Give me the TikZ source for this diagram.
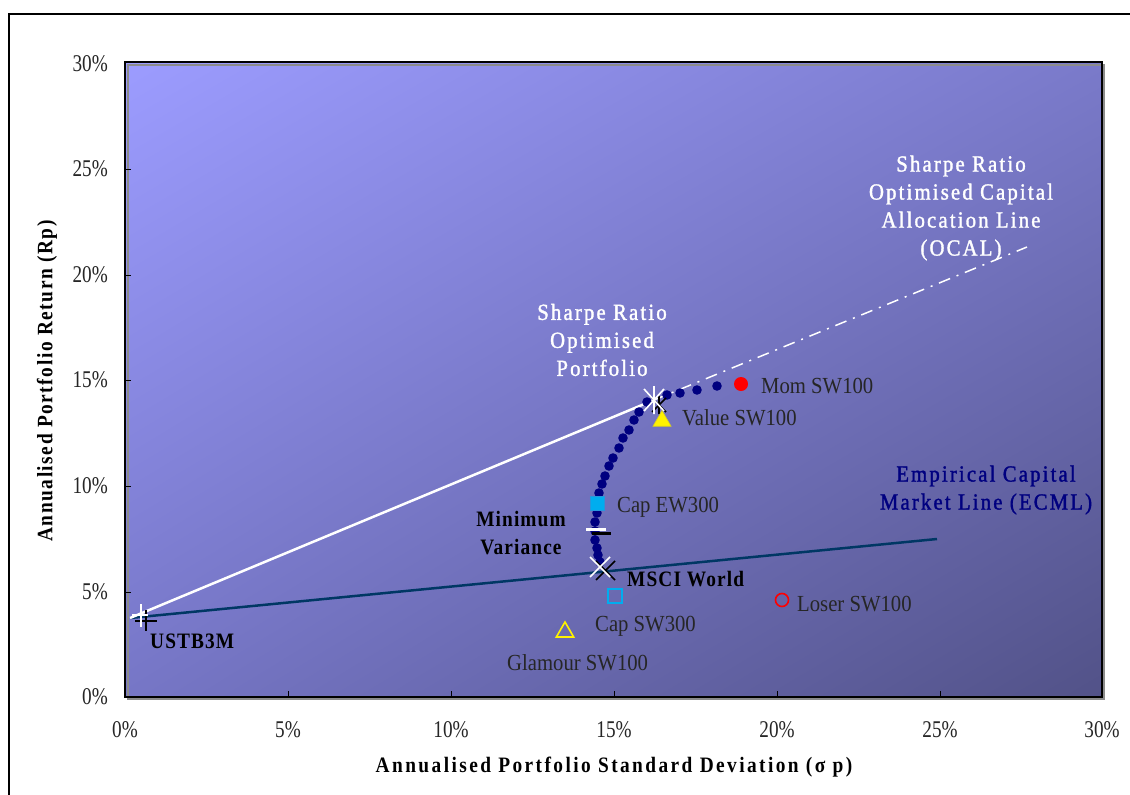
\documentclass[tikz,border=0pt]{standalone}
\usepackage{fontspec}
\setmainfont{Liberation Serif}
\newfontfamily\tickfont[FakeStretch=0.8]{Liberation Serif}
\newfontfamily\labfont[FakeStretch=0.9]{Liberation Serif}
\newfontfamily\whitefont[FakeStretch=0.9,LetterSpace=9.5,FakeBold=1.5]{Liberation Serif}
\newfontfamily\boldfont[FakeStretch=0.88,LetterSpace=5]{Liberation Serif}
\newfontfamily\xtitlefont[FakeStretch=0.88,LetterSpace=11]{Liberation Serif}
\newfontfamily\ytitlefont[FakeStretch=0.88,LetterSpace=7]{Liberation Serif}
\usetikzlibrary{shapes.geometric,shapes.misc,shadings}
\definecolor{bgUL}{RGB}{156,156,255}
\definecolor{bgUR}{RGB}{122,122,202}
\definecolor{bgLL}{RGB}{118,118,198}
\definecolor{bgLR}{RGB}{82,82,136}
\definecolor{navyc}{RGB}{0,0,128}
\definecolor{ecml}{RGB}{0,55,100}
\definecolor{capedge}{RGB}{40,150,220}
\tikzset{
  ticklab/.style={font=\tickfont\fontsize{24}{28}\selectfont, inner sep=0pt, text=black!85},
  lab/.style={font=\labfont\fontsize{23}{28}\selectfont, inner sep=0pt, anchor=west, text=black!85},
  boldlab/.style={font=\boldfont\bfseries\fontsize{22}{28}\selectfont, inner sep=0pt, text=black},
  whitelab/.style={font=\whitefont\fontsize{23}{28}\selectfont, inner sep=0pt, text=white, align=center},
  fdot/.style={fill=navyc},
  marker/.style={inner sep=0pt, minimum size=#1},
}
\begin{document}
\begin{tikzpicture}[x=1pt,y=-1pt]
\useasboundingbox (0,0) rectangle (1130,795);
\fill[white] (0,0) rectangle (1130,795);
% outer frame
\draw[line width=1.5pt, black] (9,795) -- (9,14) -- (1130,14);
% plot background
\shade[upper left=bgUL, upper right=bgUR, lower left=bgLL, lower right=bgLR] (125,62) rectangle (1102,697);
\draw[line width=2pt, black!45] (127.5,64.5) rectangle (1104,699);
\draw[line width=2pt, black] (125,62) rectangle (1102,697);
% ticks
\foreach \x in {288,451,614,777,940} \draw[line width=1pt] (\x,697) -- (\x,691);
\foreach \y in {169,275,380,486,592} \draw[line width=1pt] (125,\y) -- (131,\y);
% tick labels
\foreach \x/\t in {125/0,288/5,451/10,614/15,777/20,940/25,1102/30}
  \node[ticklab] (xt\t) at (\x,730) {\t\%};
\foreach \y/\t in {697/0,592/5,486/10,380/15,275/20,169/25,64/30}
  \node[ticklab, anchor=east] (yt\t) at (108,\y) {\t\%};
% axis titles
\node[font=\xtitlefont\bfseries\fontsize{22}{26}\selectfont, inner sep=0pt] (xtitle) at (614,767) {Annualised Portfolio Standard Deviation (σ p)};
\node[font=\ytitlefont\bfseries\fontsize{22}{26}\selectfont, inner sep=0pt, rotate=90] (ytitle) at (47,381) {Annualised Portfolio Return (Rp)};
% key coordinates
\coordinate (rf) at (130,618);
\coordinate (sharpe) at (654,400);
\coordinate (ocalend) at (1027,247);
\coordinate (ecmlend) at (937,539);
% lines
\draw[ecml, line width=2.5pt] (rf) -- (ecmlend);
\draw[white, line width=2.5pt] (rf) -- (sharpe);
\draw[white, line width=1.5pt, dash pattern=on 12pt off 7pt on 2pt off 7pt] (sharpe) -- (ocalend);
% efficient frontier
\foreach \p in {(717,386),(697,390),(680,393),(667,395),(647,402),(639,412),(634,420),(629,430),(623,438),(619,448),(613,458),(609,466),(605,476),(602,484),(599,493),(597,503),(597,513),(595,522),(595,531),(595,540),(597,548),(598,555),(600,562)}
  \fill[fdot] \p circle (4.8);
% Minimum variance marker
\draw[black, line width=3pt] (592,533) -- (611,533);
\draw[white, line width=3pt] (586,529) -- (606,529);
% MSCI World cross
\draw[black, line width=1.6pt] (596,561) -- (615,580) (596,580) -- (615,561);
\draw[white, line width=1.6pt] (590,557) -- (610,577) (590,577) -- (610,557);
\coordinate (msci) at (603,569);
% Sharpe portfolio star
\draw[black, line width=1.6pt] (652,398) -- (666,412) (652,412) -- (666,398) (659,396) -- (659,414);
\draw[white, line width=1.6pt] (644,389) -- (664,411) (644,411) -- (664,389) (654,386) -- (654,414);
% risk free plus
\draw[black, line width=2pt] (135,621) -- (157,621) (146,610) -- (146,631);
\draw[white, line width=1.6pt] (132,615) -- (148,615) (141,604) -- (141,627);
% portfolio markers
\node[marker=14pt, circle, fill=red] (mom) at (741,384) {};
\node[marker=13pt, circle, draw=red, line width=1.6pt] (loser) at (782,600) {};
\node[marker=21pt, regular polygon, regular polygon sides=3, fill=yellow, draw=yellow!80!black, line width=0.6pt] (value) at (662,421) {};
\node[marker=20pt, regular polygon, regular polygon sides=3, draw=yellow, line width=1.6pt] (glamour) at (565,632) {};
\node[marker=14pt, rectangle, fill=cyan, draw=capedge, line width=1pt] (capew) at (597,503) {};
\node[marker=14pt, rectangle, draw=cyan, line width=1.8pt] (capsw) at (615,596) {};
% labels
\node[lab] (lmom) at (761,386) {Mom SW100};
\node[lab] (lvalue) at (682,418) {Value SW100};
\node[lab] (lcapew) at (617,507) {Cap EW300};
\node[lab] (lcapsw) at (595,626) {Cap SW300};
\node[lab] (lglam) at (507,663) {Glamour SW100};
\node[lab] (lloser) at (797,604) {Loser SW100};
\node[boldlab, anchor=west] (lmsci) at (627,579) {MSCI World};
\node[boldlab, anchor=west] (lrf) at (150,641) {USTB3M};
\node[boldlab, align=center] (lminv) at (521,533) {Minimum\\Variance};
\node[whitelab] (lsharpe) at (602,340) {Sharpe Ratio\\Optimised\\Portfolio};
\node[whitelab] (local) at (961,208) {Sharpe Ratio\\Optimised Capital\\Allocation Line\\(OCAL)};
\node[whitelab, text=navyc] (lecml) at (986,490) {Empirical Capital\\Market Line (ECML)};
\end{tikzpicture}
\end{document}
